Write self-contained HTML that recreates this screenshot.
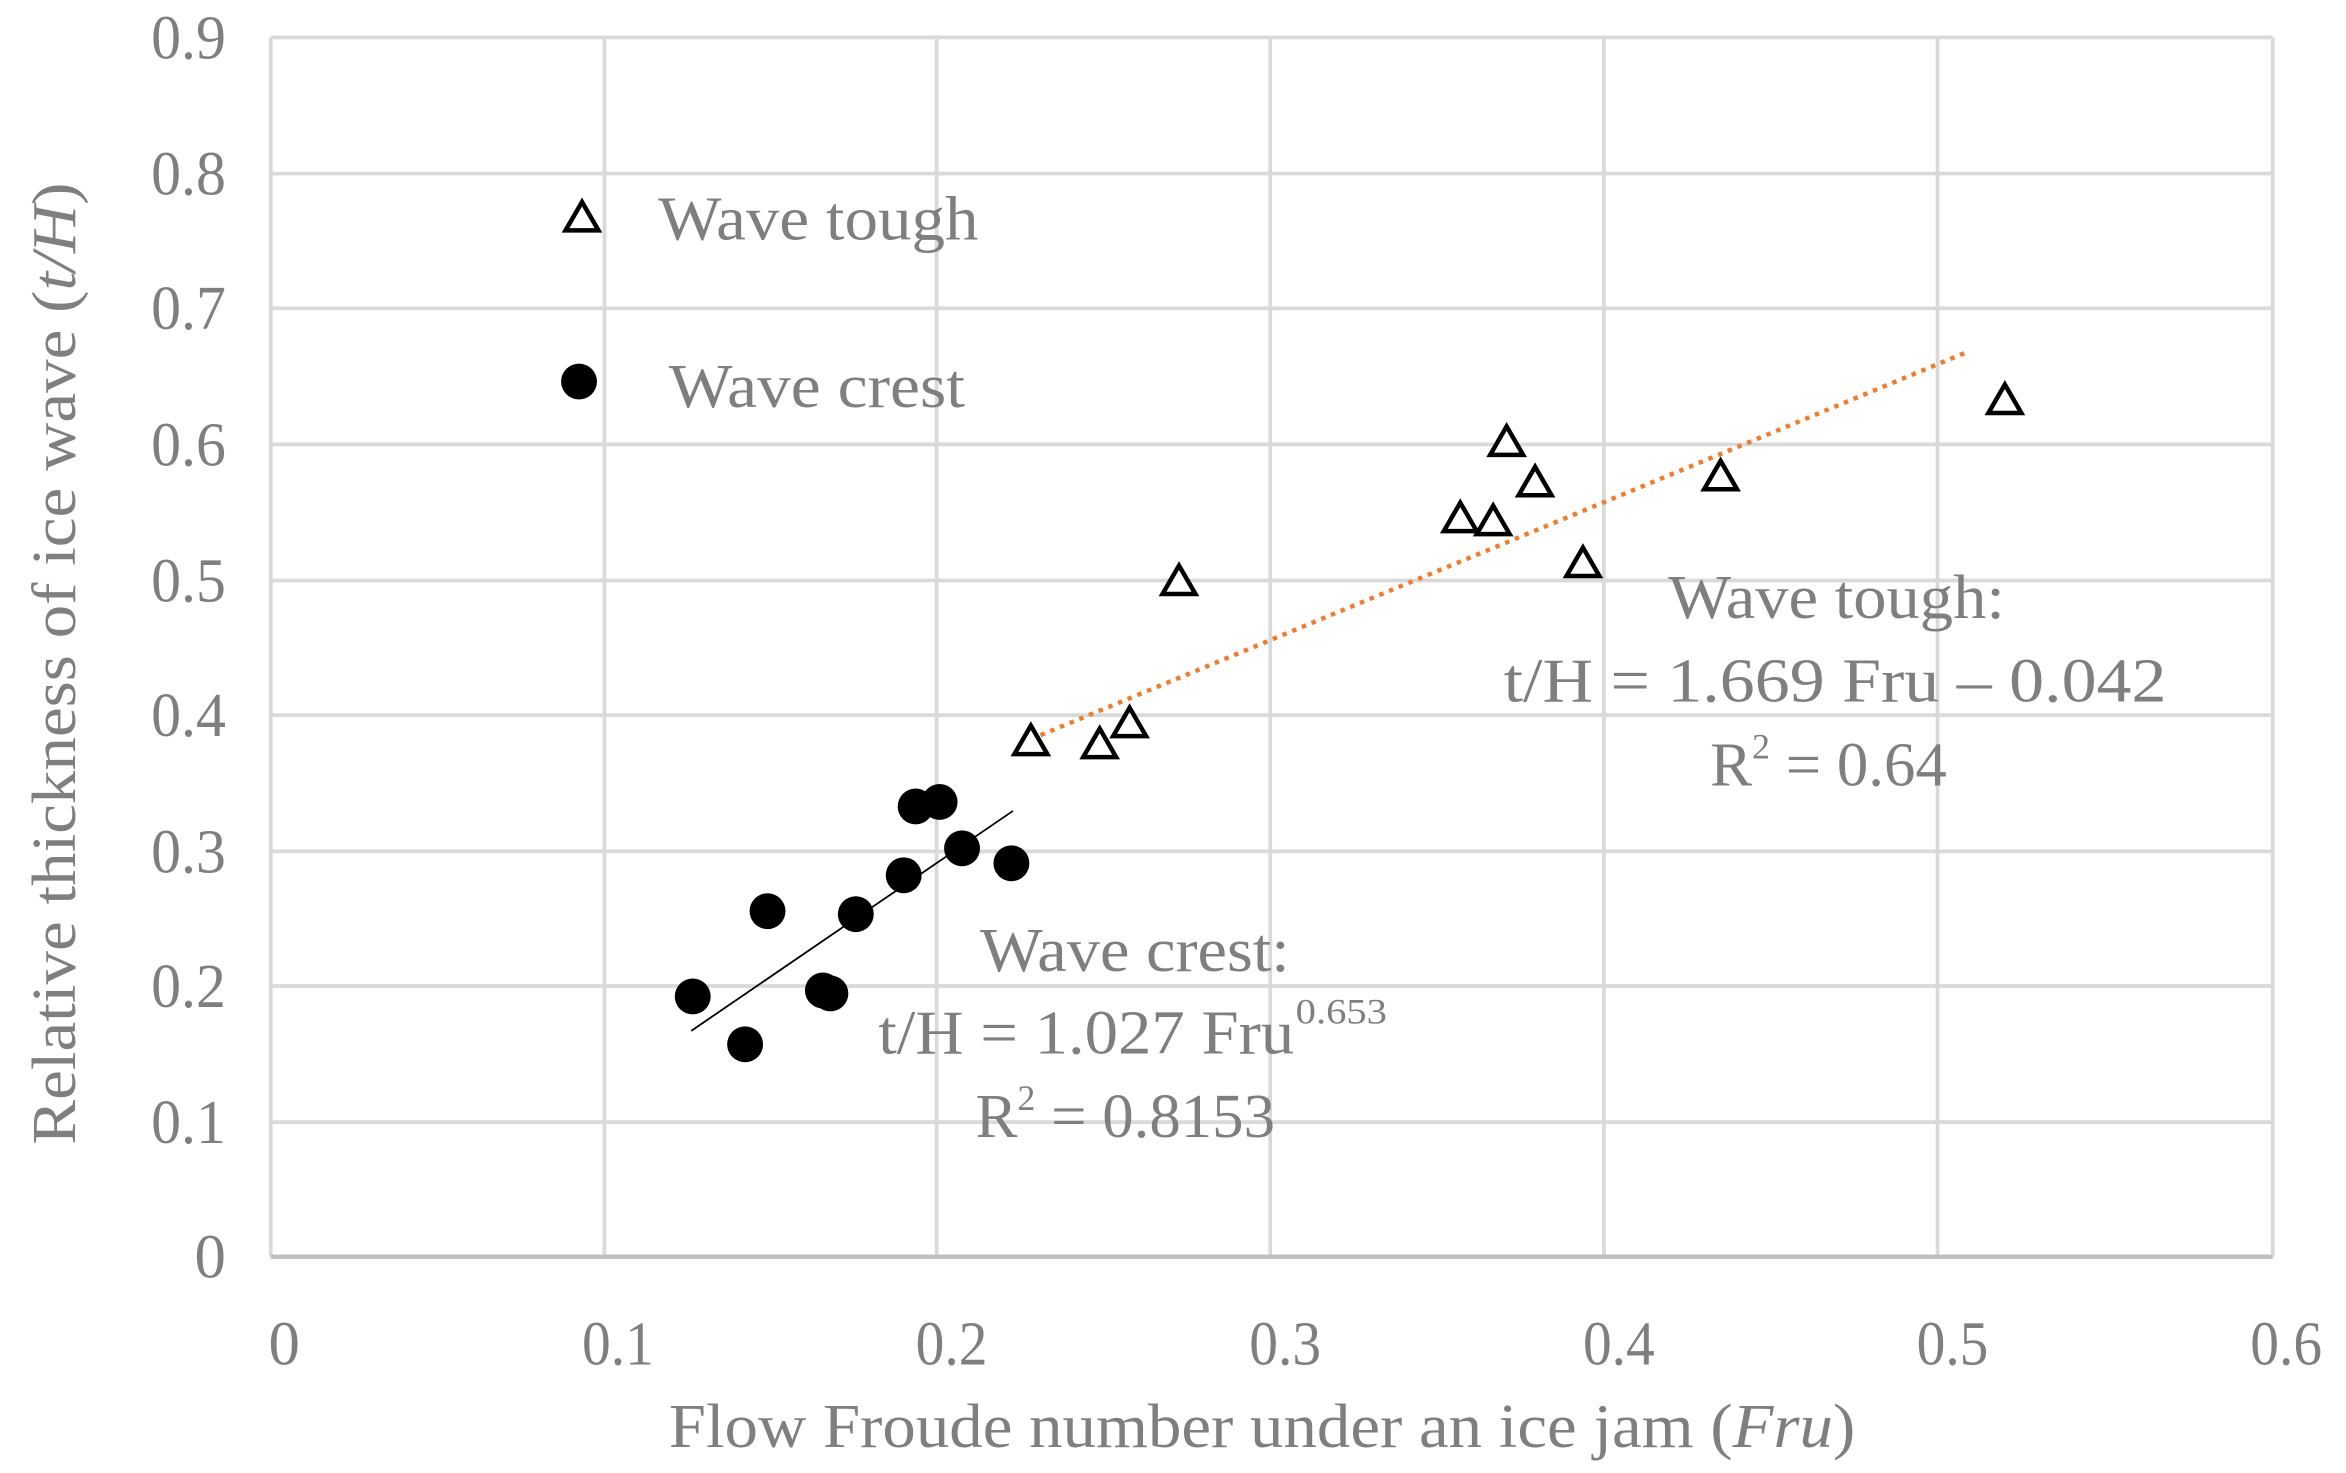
<!DOCTYPE html>
<html><head><meta charset="utf-8"><style>html,body{margin:0;padding:0;background:#fff}svg{display:block}</style></head>
<body>
<svg width="2346" height="1473" viewBox="0 0 1568 984.5" xmlns="http://www.w3.org/2000/svg" font-family="Liberation Serif, serif" fill="#7f7f7f">
<g stroke="#d9d9d9" stroke-width="2.5">
<line x1="404" y1="25" x2="404" y2="840"/><line x1="626" y1="25" x2="626" y2="840"/><line x1="849" y1="25" x2="849" y2="840"/><line x1="1072" y1="25" x2="1072" y2="840"/><line x1="1295" y1="25" x2="1295" y2="840"/><line x1="1519" y1="25" x2="1519" y2="840"/>
<line x1="181" y1="25" x2="181" y2="840"/>
<line x1="181" y1="25" x2="1519" y2="25"/><line x1="181" y1="116" x2="1519" y2="116"/><line x1="181" y1="206" x2="1519" y2="206"/><line x1="181" y1="297" x2="1519" y2="297"/><line x1="181" y1="388" x2="1519" y2="388"/><line x1="181" y1="478" x2="1519" y2="478"/><line x1="181" y1="569" x2="1519" y2="569"/><line x1="181" y1="659" x2="1519" y2="659"/><line x1="181" y1="750" x2="1519" y2="750"/>
</g>
<line x1="181" y1="840" x2="1519" y2="840" stroke="#bfbfbf" stroke-width="3"/>
<g font-size="42" text-anchor="end">
<text x="151" y="39" textLength="50" lengthAdjust="spacingAndGlyphs">0.9</text>
<text x="151" y="130" textLength="50" lengthAdjust="spacingAndGlyphs">0.8</text>
<text x="151" y="220" textLength="50" lengthAdjust="spacingAndGlyphs">0.7</text>
<text x="151" y="311" textLength="50" lengthAdjust="spacingAndGlyphs">0.6</text>
<text x="151" y="402" textLength="50" lengthAdjust="spacingAndGlyphs">0.5</text>
<text x="151" y="492" textLength="50" lengthAdjust="spacingAndGlyphs">0.4</text>
<text x="151" y="583" textLength="50" lengthAdjust="spacingAndGlyphs">0.3</text>
<text x="151" y="673" textLength="50" lengthAdjust="spacingAndGlyphs">0.2</text>
<text x="151" y="764" textLength="50" lengthAdjust="spacingAndGlyphs">0.1</text>
<text x="151" y="854">0</text>
</g>
<g font-size="42" text-anchor="middle">
<text x="190" y="912">0</text>
<text x="413" y="912" textLength="48" lengthAdjust="spacingAndGlyphs">0.1</text>
<text x="636" y="912" textLength="48" lengthAdjust="spacingAndGlyphs">0.2</text>
<text x="859" y="912" textLength="48" lengthAdjust="spacingAndGlyphs">0.3</text>
<text x="1082" y="912" textLength="48" lengthAdjust="spacingAndGlyphs">0.4</text>
<text x="1305" y="912" textLength="48" lengthAdjust="spacingAndGlyphs">0.5</text>
<text x="1528" y="912" textLength="48" lengthAdjust="spacingAndGlyphs">0.6</text>
</g>
<text x="447" y="967" font-size="42" textLength="793" lengthAdjust="spacingAndGlyphs">Flow Froude number under an ice jam (<tspan font-style="italic">Fru</tspan>)</text>
<text transform="translate(50,765) rotate(-90)" font-size="42" textLength="643" lengthAdjust="spacingAndGlyphs">Relative thickness of ice wave (<tspan font-style="italic">t/H</tspan>)</text>
<line x1="689" y1="494" x2="1313" y2="236" stroke="#ed7d31" stroke-width="3" stroke-dasharray="3,4"/>
<line x1="462" y1="689" x2="677" y2="542" stroke="#000" stroke-width="1.2"/>
<g fill="#fff" stroke="#000" stroke-width="3">
<polygon points="689,485 678,504 700,504"/>
<polygon points="735,487 724,506 746,506"/>
<polygon points="755,473 744,492 766,492"/>
<polygon points="788,378 777,397 799,397"/>
<polygon points="976,336 965,355 987,355"/>
<polygon points="998,338 987,357 1009,357"/>
<polygon points="1007,285 996,304 1018,304"/>
<polygon points="1026,312 1015,331 1037,331"/>
<polygon points="1058,366 1047,385 1069,385"/>
<polygon points="1150,308 1139,327 1161,327"/>
<polygon points="1340,257 1329,276 1351,276"/>
<polygon points="389,135 378,154 400,154"/>
</g>
<g fill="#000">
<circle cx="463" cy="666" r="12"/><circle cx="498" cy="698" r="12"/><circle cx="513" cy="609" r="12"/><circle cx="550" cy="662" r="12"/><circle cx="555" cy="664" r="12"/><circle cx="572" cy="611" r="12"/><circle cx="604" cy="585" r="12"/><circle cx="612" cy="539" r="12"/><circle cx="628" cy="536" r="12"/><circle cx="643" cy="567" r="12"/><circle cx="676" cy="577" r="12"/>
<circle cx="387" cy="255" r="12"/>
</g>
<g font-size="42">
<text x="440" y="160" textLength="214" lengthAdjust="spacingAndGlyphs">Wave tough</text>
<text x="447" y="272" textLength="198" lengthAdjust="spacingAndGlyphs">Wave crest</text>
<text x="1115" y="413" textLength="225" lengthAdjust="spacingAndGlyphs">Wave tough:</text>
<text x="1005" y="469" textLength="443" lengthAdjust="spacingAndGlyphs">t/H = 1.669 Fru  –  0.042</text>
<text x="1143" y="525">R<tspan font-size="24" dy="-18">2</tspan><tspan dy="18"> = 0.64</tspan></text>
<text x="655" y="649" textLength="207" lengthAdjust="spacingAndGlyphs">Wave crest:</text>
<text x="587" y="704" textLength="278" lengthAdjust="spacingAndGlyphs">t/H = 1.027 Fru</text>
<text x="866" y="684" font-size="24" textLength="61" lengthAdjust="spacingAndGlyphs">0.653</text>
<text x="652" y="760">R<tspan font-size="24" dy="-18">2</tspan><tspan dy="18"> = 0.8153</tspan></text>
</g>
</svg>
</body></html>
